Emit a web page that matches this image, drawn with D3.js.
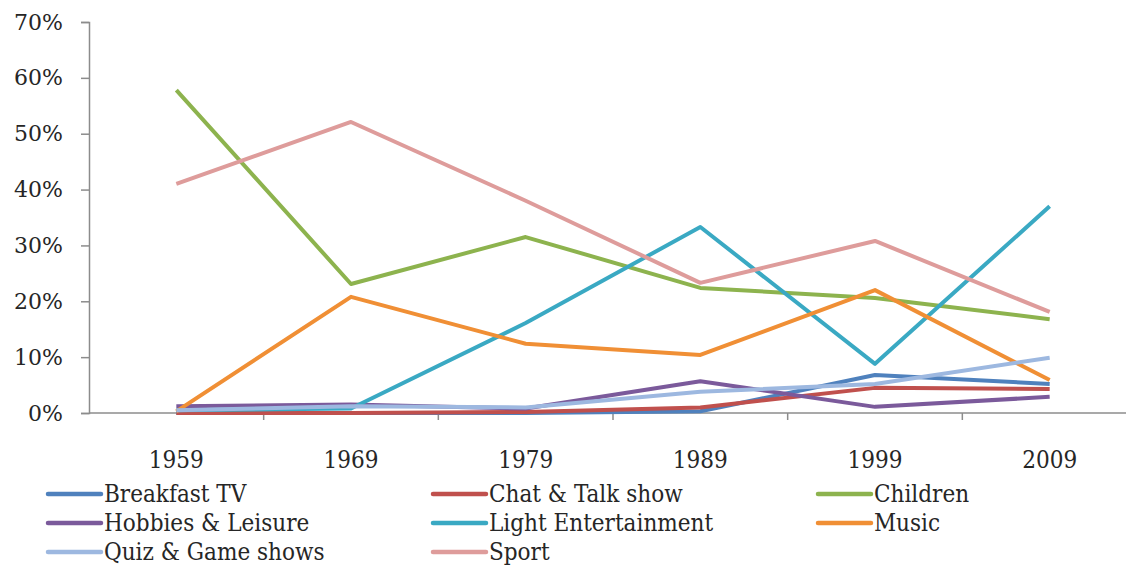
<!DOCTYPE html>
<html>
<head>
<meta charset="utf-8">
<script src="https://cdn.jsdelivr.net/npm/d3@7"></script>
<style>
  html, body { margin: 0; padding: 0; background: #fff; }
  svg text { font-family: "DejaVu Serif Condensed", "DejaVu Serif", serif; font-stretch: condensed; fill: #262626; }
</style>
</head>
<body>
<svg id="chart" width="1126" height="565"></svg>
<script>
// Share of programming by genre, per decade sample year
const years = ["1959", "1969", "1979", "1989", "1999", "2009"];
const yTicks = [0, 0.1, 0.2, 0.3, 0.4, 0.5, 0.6, 0.7];

const breakfastTV      = [0.000, 0.000, 0.000, 0.003, 0.068, 0.052];
const chatTalkShow     = [0.000, 0.000, 0.002, 0.010, 0.045, 0.043];
const children         = [0.578, 0.231, 0.315, 0.224, 0.206, 0.168];
const hobbiesLeisure   = [0.012, 0.015, 0.008, 0.057, 0.011, 0.029];
const lightEntertain   = [0.005, 0.008, 0.161, 0.333, 0.088, 0.370];
const music            = [0.003, 0.208, 0.124, 0.104, 0.220, 0.059];
const quizGameShows    = [0.005, 0.012, 0.010, 0.038, 0.052, 0.099];
const sport            = [0.410, 0.521, 0.380, 0.233, 0.308, 0.181];

const seriesNames = ["Breakfast TV", "Chat & Talk show", "Children", "Hobbies & Leisure",
                     "Light Entertainment", "Music", "Quiz & Game shows", "Sport"];
const seriesValues = [breakfastTV, chatTalkShow, children, hobbiesLeisure,
                      lightEntertain, music, quizGameShows, sport];
const seriesColors = ["#4F81BD", "#C0504D", "#8DB34E", "#7B5A9B",
                      "#3AA9C3", "#F08F35", "#9DB8E0", "#DE9C9B"];

const series = seriesNames.map((name, i) => ({ name, values: seriesValues[i], color: seriesColors[i] }));

const svg = d3.select("#chart");
const plot = { left: 89, right: 1137, top: 22, bottom: 413 };

const x = d3.scaleBand().domain(years).range([plot.left, plot.right]).padding(0);
const y = d3.scaleLinear().domain([0, 0.7]).range([plot.bottom, plot.top]);

const axisColor = "#8c8c8c";

// Y axis
const yAxis = svg.append("g")
  .attr("transform", `translate(${plot.left},0)`)
  .call(d3.axisLeft(y).tickValues(yTicks).tickFormat(d3.format(".0%")).tickSize(8).tickPadding(18));
yAxis.select(".domain").attr("stroke", axisColor).attr("stroke-width", 1.5);
yAxis.selectAll(".tick line").attr("stroke", axisColor).attr("stroke-width", 1.5);
yAxis.selectAll(".tick text").attr("font-size", 22).attr("fill", "#333")
  .style("font-family", "'DejaVu Serif', serif").style("font-stretch", "normal");

// X axis: line along zero, ticks at category boundaries
const xAxisG = svg.append("g").attr("transform", `translate(0,${plot.bottom})`);
xAxisG.append("line")
  .attr("x1", plot.left).attr("x2", 1126)
  .attr("stroke", axisColor).attr("stroke-width", 1.5);
const boundaries = years.map(d => x(d)).concat([x(years[years.length - 1]) + x.bandwidth()]);
xAxisG.selectAll(".xtick").data(boundaries.slice(1)).join("line")
  .attr("class", "xtick")
  .attr("x1", d => d).attr("x2", d => d)
  .attr("y1", 0).attr("y2", 7)
  .attr("stroke", axisColor).attr("stroke-width", 1.5);
xAxisG.selectAll(".xlabel").data(years).join("text")
  .attr("class", "xlabel")
  .attr("x", d => x(d) + x.bandwidth() / 2)
  .attr("y", 55)
  .attr("text-anchor", "middle")
  .attr("font-size", 24)
  .attr("fill", "#333")
  .text(d => d);

// Series lines
const line = d3.line()
  .x((d, i) => x(years[i]) + x.bandwidth() / 2)
  .y(d => y(d));

svg.append("g").selectAll("path").data(series).join("path")
  .attr("d", d => line(d.values))
  .attr("fill", "none")
  .attr("stroke", d => d.color)
  .attr("stroke-width", 4)
  .attr("stroke-linejoin", "round");

// Legend: three columns
const legendCols = [48, 433, 818];
const legendRows = [494, 523, 552];
const legend = svg.append("g").selectAll("g").data(series).join("g")
  .attr("transform", (d, i) => `translate(${legendCols[i % 3]},${legendRows[Math.floor(i / 3)]})`);
legend.append("line")
  .attr("x1", 0).attr("x2", 53).attr("y1", 0).attr("y2", 0)
  .attr("stroke", d => d.color).attr("stroke-width", 4.5)
  .attr("stroke-linecap", "round");
legend.append("text")
  .attr("x", 56).attr("y", 8)
  .attr("font-size", 24)
  .attr("fill", "#333")
  .text(d => d.name);
</script>
</body>
</html>
